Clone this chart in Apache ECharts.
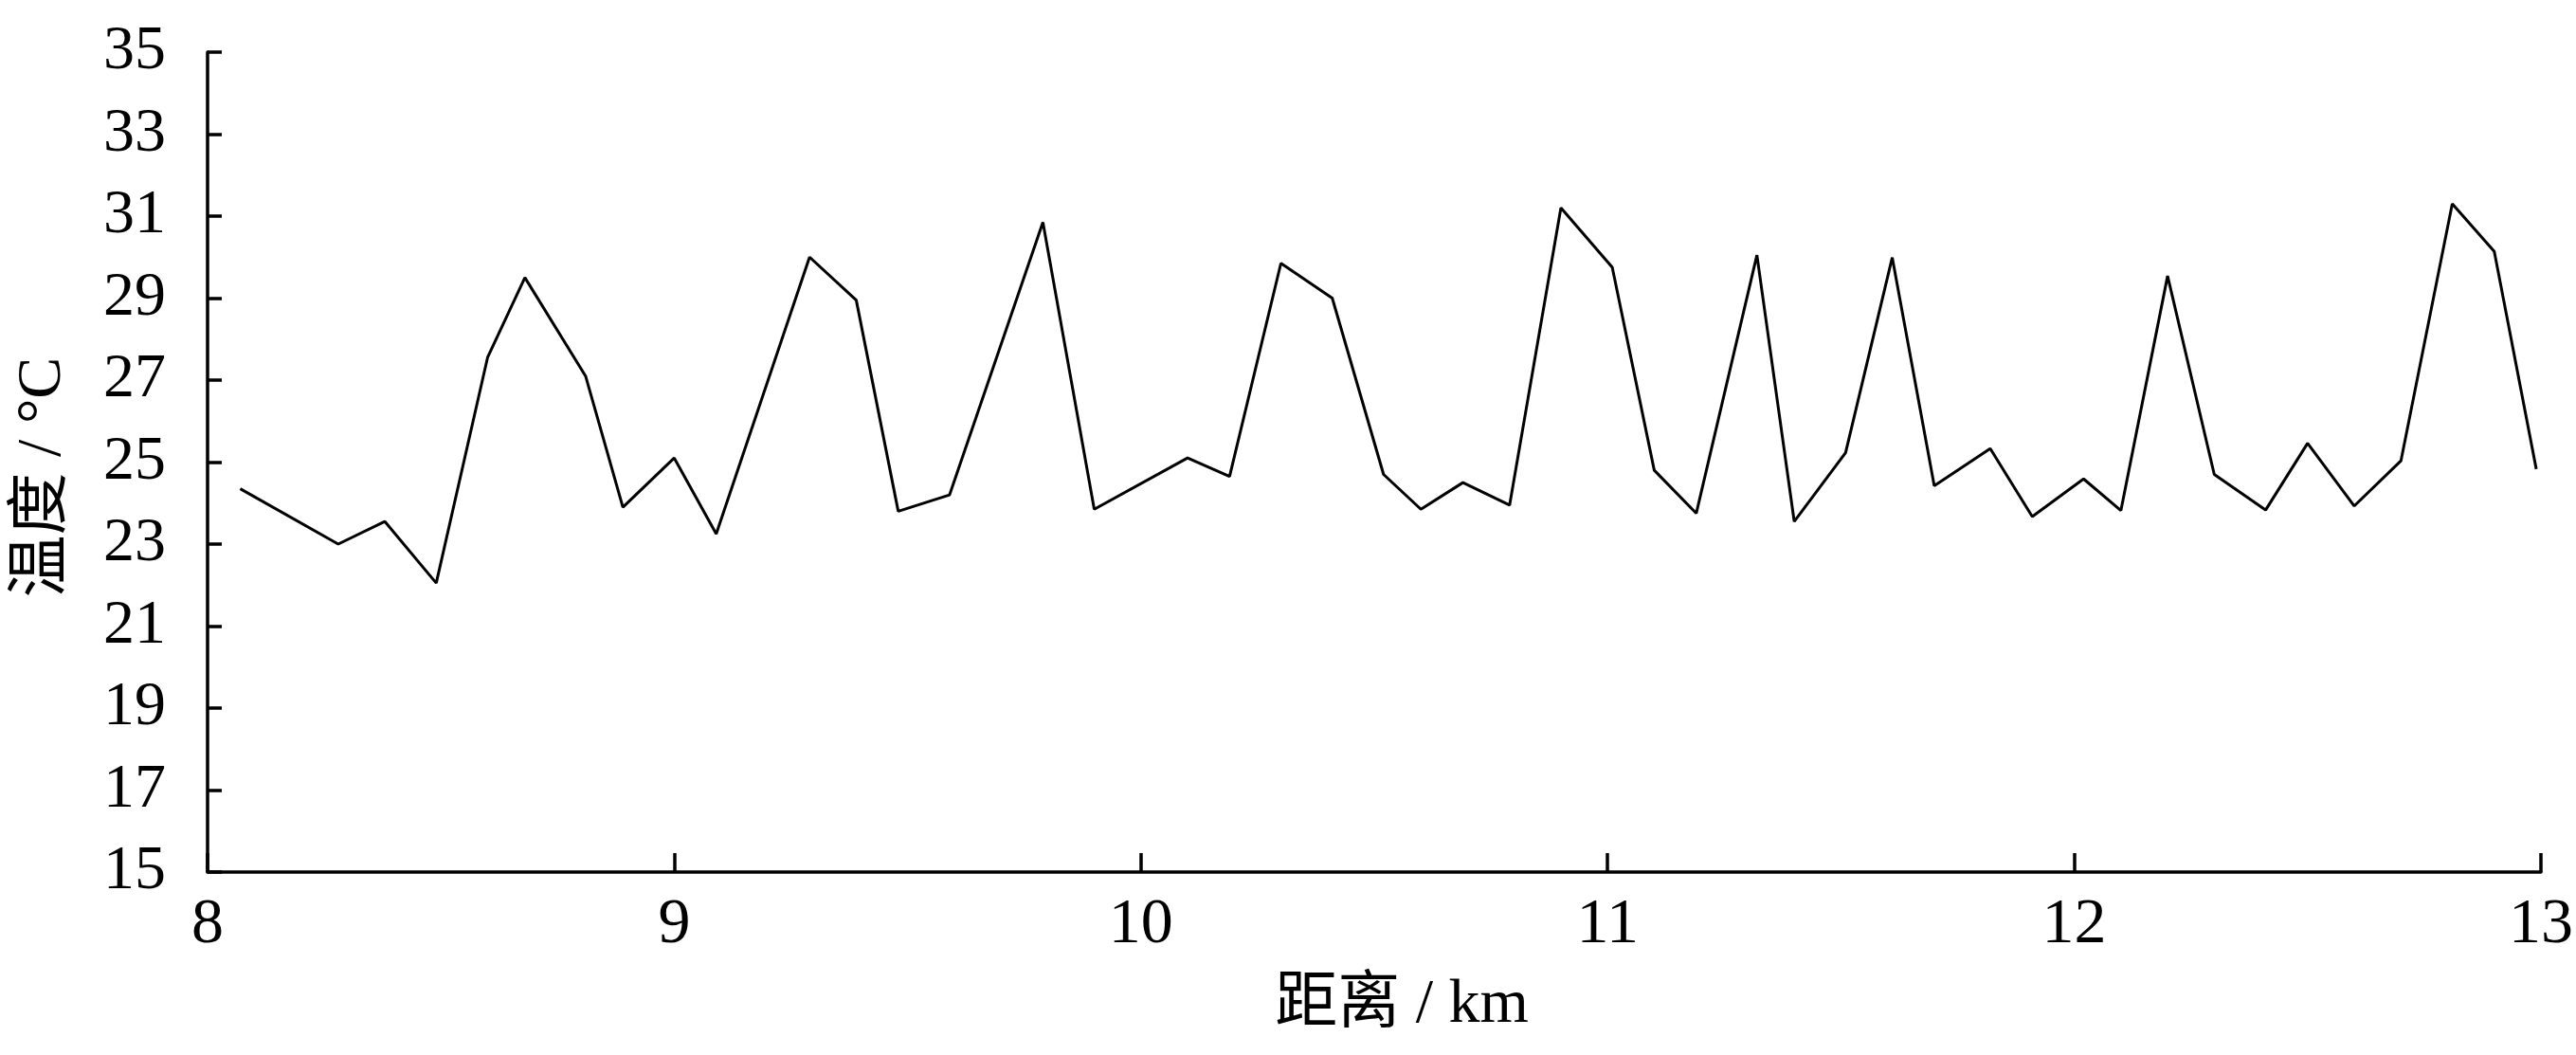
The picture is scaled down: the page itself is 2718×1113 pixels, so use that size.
<!DOCTYPE html>
<html>
<head>
<meta charset="utf-8">
<script src="https://cdn.jsdelivr.net/npm/echarts@6/dist/echarts.min.js"></script>
<style>
  html, body { margin: 0; padding: 0; background: #fff; }
  #chart { width: 2718px; height: 1113px; }
</style>
</head>
<body>
<div id="chart"></div>
<script>
// 距离 (km) 与 温度 (°C)
var distance = [8.07, 8.28, 8.38, 8.49, 8.60, 8.68, 8.81, 8.89, 9.00, 9.09,
    9.29, 9.39, 9.48, 9.59, 9.79, 9.90, 10.10, 10.19, 10.30, 10.41,
    10.52, 10.60, 10.69, 10.79, 10.90, 11.01, 11.10, 11.19, 11.32, 11.40,
    11.51, 11.61, 11.70, 11.82, 11.91, 12.02, 12.10, 12.20, 12.30, 12.41,
    12.50, 12.60, 12.70, 12.81, 12.90, 12.99];
var temperature = [24.35, 23.0, 23.55, 22.05, 27.55, 29.5, 27.1, 23.9, 25.1, 23.25,
    30.0, 28.95, 23.8, 24.2, 30.85, 23.85, 25.1, 24.65, 29.85, 29.0,
    24.7, 23.85, 24.5, 23.95, 31.2, 29.75, 24.8, 23.75, 30.05, 23.55,
    25.23, 29.99, 24.42, 25.33, 23.67, 24.59, 23.82, 29.54, 24.7, 23.83,
    25.46, 23.93, 25.03, 31.3, 30.14, 24.83];
var xTicks = [8, 9, 10, 11, 12, 13];
var yTicks = [15, 17, 19, 21, 23, 25, 27, 29, 31, 33, 35];

var fontFam = '"Liberation Serif", "Times New Roman", "Noto Sans CJK SC", serif';

var points = [];
for (var i = 0; i < distance.length; i++) {
    points.push([distance[i], temperature[i]]);
}

var option = {
    backgroundColor: '#fff',
    animation: false,
    grid: {
        left: 219,
        right: 35,
        top: 55,
        bottom: 193
    },
    xAxis: {
        type: 'value',
        min: xTicks[0],
        max: xTicks[xTicks.length - 1],
        interval: 1,
        name: '距离 / km',
        nameLocation: 'middle',
        nameGap: 108,
        nameTextStyle: {
            fontFamily: fontFam,
            fontSize: 66,
            color: '#000',
            padding: [0, 0, 0, 58]
        },
        axisLine: { show: true, lineStyle: { color: '#000', width: 3.5 } },
        axisTick: { show: true, inside: true, length: 20, lineStyle: { color: '#000', width: 3.5 } },
        axisLabel: {
            margin: 22,
            fontFamily: fontFam,
            fontSize: 68,
            color: '#000'
        },
        splitLine: { show: false }
    },
    yAxis: {
        type: 'value',
        min: yTicks[0],
        max: yTicks[yTicks.length - 1],
        interval: 2,
        name: '温度 / °C',
        nameLocation: 'middle',
        nameGap: 140,
        nameTextStyle: {
            fontFamily: fontFam,
            fontSize: 66,
            color: '#000',
            padding: [0, 32, 0, 0]
        },
        axisLine: { show: true, lineStyle: { color: '#000', width: 3.5 } },
        axisTick: { show: true, inside: true, length: 15, lineStyle: { color: '#000', width: 3.5 } },
        axisLabel: {
            margin: 44,
            fontFamily: fontFam,
            fontSize: 66,
            color: '#000',
            padding: [0, 0, 20, 0]
        },
        splitLine: { show: false }
    },
    series: [
        {
            type: 'line',
            data: points,
            showSymbol: false,
            symbol: 'none',
            lineStyle: { color: '#000', width: 3 }
        }
    ]
};

var myChart = echarts.init(document.getElementById('chart'));
myChart.setOption(option);
</script>
</body>
</html>
